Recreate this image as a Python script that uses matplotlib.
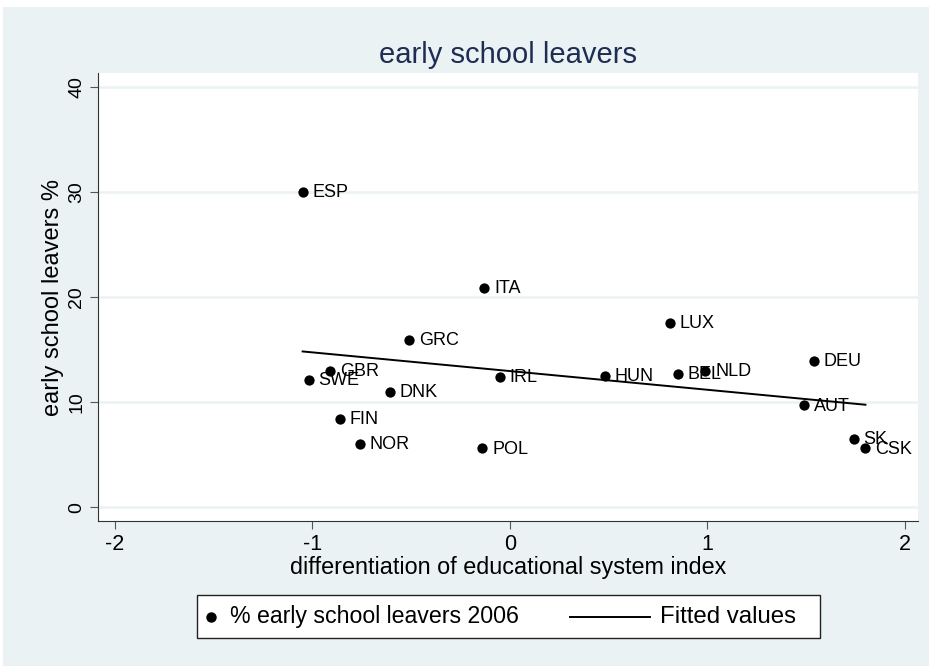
import numpy as np
import matplotlib
matplotlib.use("Agg")
import matplotlib.pyplot as plt
from matplotlib.patches import Rectangle
from matplotlib.lines import Line2D

plt.rcParams['font.family'] = ['Liberation Sans', 'DejaVu Sans']

# country codes and values
countries = ["ESP", "ITA", "GRC", "LUX", "DEU", "GBR", "SWE", "DNK", "IRL",
             "HUN", "BEL", "NLD", "AUT", "FIN", "NOR", "POL", "SK", "CSK"]
diff_index = [-1.05, -0.13, -0.51, 0.81, 1.54, -0.91, -1.02, -0.61, -0.05,
              0.48, 0.85, 0.99, 1.49, -0.86, -0.76, -0.14, 1.74, 1.80]
leavers = [30.0, 20.9, 15.9, 17.5, 13.9, 13.0, 12.1, 11.0, 12.4,
           12.5, 12.7, 13.0, 9.7, 8.4, 6.0, 5.6, 6.5, 5.6]

x_ticks = [-2, -1, 0, 1, 2]
y_ticks = [0, 10, 20, 30, 40]

bg = "#EAF2F3"
navy = "#1E2D53"
W, H = 932, 666

x = np.array(diff_index)
y = np.array(leavers)

# linear fit over the data range
slope, intercept = np.polyfit(x, y, 1)
xf = np.array([x.min(), x.max()])
yf = intercept + slope * xf

fig = plt.figure(figsize=(W / 100, H / 100), dpi=100)
fig.patch.set_facecolor("white")
fig.patches.append(Rectangle((3 / W, 0), 926 / W, 659 / H,
                             transform=fig.transFigure, facecolor=bg,
                             edgecolor="none", zorder=-10))

ax = fig.add_axes([98 / W, (H - 521) / H, 820 / W, 448 / H])
ax.set_facecolor("white")

for t in y_ticks:
    ax.axhline(t, color=bg, lw=1.8, zorder=0)

ax.scatter(x, y, s=55, color="black", zorder=3, linewidths=0)
ax.plot(xf, yf, color="black", lw=1.4, zorder=2)

for name, xi, yi in zip(countries, diff_index, leavers):
    ax.annotate(name, (xi, yi), xytext=(7, -0.5), textcoords="offset points",
                va="center", ha="left", fontsize=13, color="black")

ax.set_xlim(-2.086, 2.066)
ax.set_ylim(-1.3, 41.3)
ax.set_xticks(x_ticks)
ax.set_yticks(y_ticks)
ax.set_xticklabels([str(t) for t in x_ticks], fontsize=15.5)
ax.set_yticklabels([str(t) for t in y_ticks], fontsize=14, rotation=90,
                   va="center")
ax.tick_params(direction="out", length=6, color="#555555", pad=3)

for side in ["top", "right"]:
    ax.spines[side].set_visible(False)
for side in ["left", "bottom"]:
    ax.spines[side].set_color("#333333")

ax.set_xlabel("differentiation of educational system index", fontsize=16.8,
              labelpad=1)
ax.set_ylabel("early school leavers %", fontsize=17, labelpad=3)
ax.set_title("early school leavers", fontsize=21, color=navy, pad=7)

# legend box below the plot, laid out like the Stata legend
fig.patches.append(Rectangle((197 / W, (H - 638) / H), 623 / W, 43 / H,
                             transform=fig.transFigure, facecolor="white",
                             edgecolor="#222222", lw=1.0, zorder=5))
ly = (H - 617) / H
fig.add_artist(Line2D([211 / W], [ly], marker="o", markersize=6.5,
                      color="black", linestyle="none", zorder=6))
fig.text(230 / W, ly, "% early school leavers 2006", fontsize=16.7,
         va="center", ha="left", zorder=6)
fig.add_artist(Line2D([570 / W, 650 / W], [ly, ly], color="black", lw=1.4,
                      zorder=6))
fig.text(660 / W, ly, "Fitted values", fontsize=17.3, va="center",
         ha="left", zorder=6)

fig.savefig("out.png", dpi=100, facecolor=fig.get_facecolor())
